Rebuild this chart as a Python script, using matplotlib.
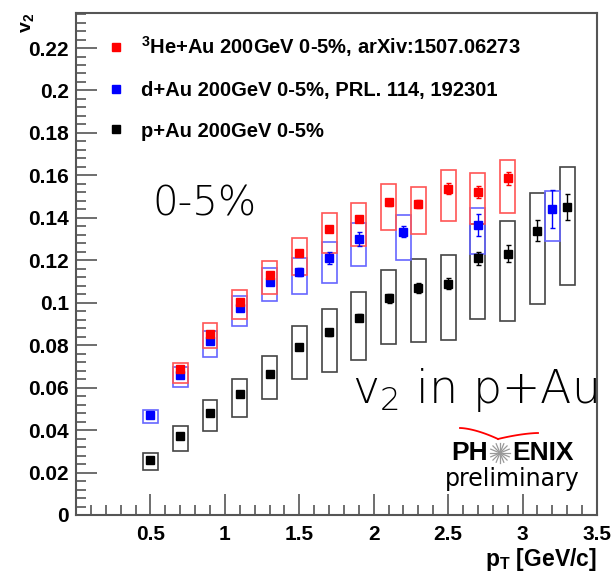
import matplotlib
matplotlib.use("Agg")
import matplotlib.pyplot as plt
import numpy as np
from matplotlib.lines import Line2D
from matplotlib.ticker import MultipleLocator, FuncFormatter

plt.rcParams["font.family"] = ["Liberation Sans", "DejaVu Sans"]
plt.rcParams["mathtext.default"] = "regular"

# ── data ────────────────────────────────────────────────
# p+Au
pt_pau = [0.5, 0.7, 0.9, 1.1, 1.3, 1.5, 1.7, 1.9, 2.1, 2.3, 2.5, 2.7, 2.9, 3.1, 3.3]
v2_pau = [0.026, 0.037, 0.048, 0.057, 0.0665, 0.079, 0.086, 0.093, 0.102, 0.107, 0.109, 0.121, 0.123, 0.134, 0.145]
stat_pau = [0.0006, 0.0008, 0.001, 0.001, 0.0012, 0.0014, 0.0016, 0.0018, 0.002, 0.0025, 0.0025, 0.003, 0.004, 0.005, 0.006]
sys_hi_pau = [0.0032, 0.0049, 0.0063, 0.0071, 0.0085, 0.010, 0.0112, 0.0119, 0.0133, 0.0135, 0.0135, 0.0159, 0.0157, 0.0176, 0.019]
sys_lo_pau = [0.0047, 0.0069, 0.0085, 0.0106, 0.012, 0.0148, 0.0186, 0.0202, 0.0216, 0.0257, 0.0264, 0.0288, 0.0314, 0.0344, 0.0367]

# d+Au
pt_dau = [0.5, 0.7, 0.9, 1.1, 1.3, 1.5, 1.7, 1.9, 2.2, 2.7, 3.2]
v2_dau = [0.047, 0.066, 0.082, 0.0976, 0.110, 0.1145, 0.121, 0.130, 0.1335, 0.1366, 0.144]
stat_dau = [0.0005, 0.0007, 0.0009, 0.001, 0.0012, 0.002, 0.0027, 0.0035, 0.0027, 0.0053, 0.0089]
sys_hi_dau = [0.0025, 0.0039, 0.0046, 0.0055, 0.0063, 0.0068, 0.0075, 0.0075, 0.0079, 0.0082, 0.0088]
sys_lo_dau = [0.0038, 0.0055, 0.0074, 0.0086, 0.0094, 0.0106, 0.0118, 0.0126, 0.0133, 0.0135, 0.0148]

# 3He+Au
pt_heau = [0.7, 0.9, 1.1, 1.3, 1.5, 1.7, 1.9, 2.1, 2.3, 2.5, 2.7, 2.9]
v2_heau = [0.0687, 0.0853, 0.1004, 0.1133, 0.1234, 0.1346, 0.1396, 0.1474, 0.1464, 0.1537, 0.1522, 0.1587]
stat_heau = [0.0005, 0.0006, 0.0008, 0.0009, 0.001, 0.0012, 0.0014, 0.0016, 0.0018, 0.0025, 0.003, 0.0031]
sys_hi_heau = [0.003, 0.0052, 0.0058, 0.0064, 0.0071, 0.0077, 0.0075, 0.0087, 0.0081, 0.0086, 0.0087, 0.0087]
sys_lo_heau = [0.0063, 0.0067, 0.0081, 0.0094, 0.0105, 0.0114, 0.0129, 0.0133, 0.0138, 0.0152, 0.0152, 0.0165]

labels = ["$^{3}$He+Au 200GeV 0-5%, arXiv:1507.06273",
          "d+Au 200GeV 0-5%, PRL. 114, 192301",
          "p+Au 200GeV 0-5%"]

BOX_W = 0.1

# ── figure ─────────────────────────────────────────────
fig = plt.figure(figsize=(6.14, 5.74), dpi=100)
ax = fig.add_axes([76 / 614, 1 - 515 / 574, 521 / 614, 502 / 574])


def draw_series(x, y, stat, s_hi, s_lo, color, boxcolor):
    x = np.array(x); y = np.array(y)
    s_hi = np.array(s_hi); s_lo = np.array(s_lo)
    # systematic boxes
    ax.bar(x, s_hi + s_lo, bottom=y - s_lo, width=BOX_W, fill=False,
           edgecolor=boxcolor, linewidth=1.2, zorder=2)
    ax.errorbar(x, y, yerr=stat, fmt="s", color=color, ms=5.2,
                elinewidth=1.0, capsize=1.8, capthick=1.0, zorder=3)


draw_series(pt_pau, v2_pau, stat_pau, sys_hi_pau, sys_lo_pau, "black", "#444444")
draw_series(pt_dau, v2_dau, stat_dau, sys_hi_dau, sys_lo_dau, "#0000ff", "#6666ff")
draw_series(pt_heau, v2_heau, stat_heau, sys_hi_heau, sys_lo_heau, "#ff0000", "#ff5555")

ax.set_xlim(0, 3.5)
ax.set_ylim(0, 0.2365)

# ROOT style ticks
ax.xaxis.set_major_locator(MultipleLocator(0.5))
ax.xaxis.set_minor_locator(MultipleLocator(0.1))
ax.yaxis.set_major_locator(MultipleLocator(0.02))
ax.yaxis.set_minor_locator(MultipleLocator(0.004))
ax.tick_params(which="both", direction="in", top=False, right=False,
               color="#555555", width=1.2)
ax.tick_params(which="major", length=15, labelsize=15)
ax.tick_params(which="minor", length=7.5)
ax.tick_params(axis="y", pad=5)
ax.tick_params(axis="x", pad=7)
ax.yaxis.set_major_formatter(FuncFormatter(lambda v, p: f"{round(v, 3):g}"))
ax.xaxis.set_major_formatter(FuncFormatter(lambda v, p: "" if abs(v) < 1e-9 else f"{v:g}"))
for lab in ax.get_xticklabels() + ax.get_yticklabels():
    lab.set_fontweight("bold")
for s in ax.spines.values():
    s.set_color("#555555")
    s.set_linewidth(1.5)

# axis titles
fig.text(27 / 614, 1 - 13 / 574, "v$_2$", rotation=90, ha="center", va="top",
         fontsize=14, fontweight="bold")
fig.text(597 / 614, 1 - 566 / 574, "p$_T$ [GeV/c]", ha="right", va="baseline",
         fontsize=16.5, fontweight="bold")

# legend
handles = [Line2D([], [], marker="s", ls="none", color=c, ms=5.2)
           for c in ["#ff0000", "#0000ff", "black"]]
ax.legend(handles, labels, loc="upper left", bbox_to_anchor=(0.026, 0.994),
          frameon=False, handlelength=0.8, handletextpad=0.85,
          labelspacing=1.08, prop={"weight": "bold", "size": 14.5})

# annotations
big = dict(family=["DejaVu Sans"], fontweight="light")
ax.text((152 - 76) / 521, (515 - 204) / 502, "0-5%", ha="left", va="center",
        transform=ax.transAxes, fontsize=29, **big)
ax.text(1.0, (515 - 403) / 502, "v$_2$ in p+Au", ha="right", va="baseline",
        transform=ax.transAxes, fontsize=33, **big)

# PHENIX preliminary logo
cx, cy = (500 - 76) / 521, (515 - 453) / 502
ax.text(cx - 0.023, cy, "PH", ha="right", va="center", transform=ax.transAxes,
        fontsize=19, fontweight="bold")
ax.text(cx + 0.023, cy, "ENIX", ha="left", va="center", transform=ax.transAxes,
        fontsize=19, fontweight="bold")
for a in np.linspace(0, np.pi, 9)[:-1]:
    dx, dy = 10 * np.cos(a), 10 * np.sin(a)
    ax.plot([cx - dx / 521, cx + dx / 521], [cy - dy / 502, cy + dy / 502],
            transform=ax.transAxes, color="#999999", lw=0.9, clip_on=False)
ax.text((512 - 76) / 521, (515 - 479) / 502, "preliminary", ha="center", va="center",
        transform=ax.transAxes, family=["DejaVu Sans"], fontsize=17)
t = np.linspace(0, 1, 30)
lx = 460 + (498 - 460) * t
ly = 428 + (439 - 428) * t ** 1.6
rx = 498 + (538 - 498) * t
ry = 439 - (439 - 433) * (1 - (1 - t) ** 1.6)
ax.plot((lx - 76) / 521, (515 - ly) / 502, transform=ax.transAxes,
        color="red", lw=1.3, clip_on=False)
ax.plot((rx - 76) / 521, (515 - ry) / 502, transform=ax.transAxes,
        color="red", lw=1.3, clip_on=False)

fig.savefig("out.png", dpi=100, facecolor="white")
